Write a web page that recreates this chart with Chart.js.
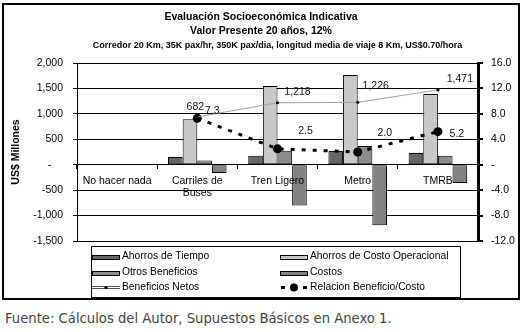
<!DOCTYPE html>
<html>
<head>
<meta charset="utf-8">
<script src="https://cdn.jsdelivr.net/npm/chart.js@4.4.0/dist/chart.umd.min.js"></script>
<style>
  body { margin: 0; background: #fff; width: 528px; height: 332px; overflow: hidden; position: relative; }
  #frame { position: absolute; left: 2px; top: 3px; width: 518px; height: 297px; border: 2px solid #000; box-sizing: border-box; }
  #chart { position: absolute; left: 0; top: 0; }
  #source { position: absolute; left: 5px; top: 311px; font: 13.2px "DejaVu Sans", sans-serif; color: #444; white-space: nowrap; }
</style>
</head>
<body>
<div id="frame"><canvas id="chart" width="514" height="293"></canvas></div>
<div id="source">Fuente: Cálculos del Autor, Supuestos Básicos en Anexo 1.</div>
<script>
const categories = ["No hacer nada", ["Carriles de", "Buses"], "Tren Ligero", "Metro", "TMRB"];
const ahorrosTiempo = [null, 150, 175, 270, 230];
const ahorrosCostoOp = [null, 895, 1550, 1765, 1390];
const otrosBeneficios = [null, 85, 275, 370, 175];
const costos = [null, -165, -800, -1190, -360];
const beneficiosNetos = [null, 940, 1218, 1226, 1471];
const netosLabels = ["", "682", "1,218", "1,226", "1,471"];
const relacionBC = [null, 7.3, 2.5, 2.0, 5.2];
const bcLabels = ["", "7.3", "2.5", "2.0", "5.2"];
const leftTicks = [-1500, -1000, -500, 0, 500, 1000, 1500, 2000];
const rightTicks = [-12, -8, -4, 0, 4, 8, 12, 16];

const FONT = '"Liberation Sans", Arial, sans-serif';
Chart.defaults.font.family = FONT;
Chart.defaults.font.size = 10.5;
Chart.defaults.color = "#000";

// label nudges, per point (dx, dy) from the marker
const netOffsets = [[0, 0], [-2, -10], [20, -11], [18, -16], [22, -11]];
const bcOffsets = [[0, 0], [15, -7], [28, -18], [27, -19], [19, 2]];

const pointLabels = {
  id: "pointLabels",
  afterDatasetsDraw(chart) {
    const ctx = chart.ctx;
    ctx.save();
    ctx.font = "10.5px " + FONT;
    ctx.fillStyle = "#111";
    ctx.textAlign = "center";
    ctx.textBaseline = "middle";
    [[4, netosLabels, netOffsets], [5, bcLabels, bcOffsets]].forEach(([idx, texts, offs]) => {
      chart.getDatasetMeta(idx).data.forEach((pt, i) => {
        if (!texts[i]) return;
        ctx.fillText(texts[i], pt.x + offs[i][0], pt.y + offs[i][1]);
      });
    });
    ctx.restore();
  },
};

const legendBox = {
  id: "legendBox",
  afterDraw(chart) {
    const ctx = chart.ctx;
    const cols = [88, 276];
    const rows = [251, 267, 282];
    ctx.save();
    ctx.strokeStyle = "#000";
    ctx.lineWidth = 1;
    ctx.strokeRect(87.5, 241.5, 369, 51);
    ctx.font = "10.3px " + FONT;
    ctx.textBaseline = "middle";
    chart.data.datasets.forEach((ds, i) => {
      const x = cols[i % 2];
      const y = rows[Math.floor(i / 2)];
      if (ds.type === "bar") {
        ctx.fillStyle = ds.backgroundColor;
        ctx.fillRect(x, y - 1, 28, 5);
        ctx.strokeStyle = "#000";
        ctx.strokeRect(x + 0.5, y - 0.5, 27, 4);
      } else if (ds.borderDash) {
        ctx.fillStyle = "#000";
        ctx.fillRect(x + 1, y - 1, 4, 3);
        ctx.fillRect(x + 23, y - 1, 4, 3);
        ctx.beginPath();
        ctx.arc(x + 14, y + 0.5, 4, 0, Math.PI * 2);
        ctx.fill();
      } else {
        ctx.strokeStyle = "#555";
        ctx.beginPath();
        ctx.moveTo(x, y - 0.5); ctx.lineTo(x + 28, y - 0.5);
        ctx.moveTo(x, y + 1.5); ctx.lineTo(x + 28, y + 1.5);
        ctx.stroke();
        ctx.fillStyle = "#000";
        ctx.beginPath();
        ctx.arc(x + 14, y + 0.5, 1.6, 0, Math.PI * 2);
        ctx.fill();
      }
      ctx.fillStyle = "#000";
      ctx.fillText(ds.label, x + 30, y);
    });
    ctx.restore();
  },
};

const barStyle = { type: "bar", yAxisID: "y", borderColor: "#000", borderWidth: 1, borderSkipped: false, order: 1 };

new Chart(document.getElementById("chart"), {
  data: {
    labels: categories,
    datasets: [
      { ...barStyle, label: "Ahorros de Tiempo", data: ahorrosTiempo, backgroundColor: "#666666" },
      { ...barStyle, label: "Ahorros de Costo Operacional", data: ahorrosCostoOp, backgroundColor: "#c8c8c8" },
      { ...barStyle, label: "Otros Beneficios", data: otrosBeneficios, backgroundColor: "#8c8c8c" },
      { ...barStyle, label: "Costos", data: costos, backgroundColor: "#828282" },
      {
        type: "line", label: "Beneficios Netos", data: beneficiosNetos, yAxisID: "y", order: 0,
        borderColor: "#a0a0a0", borderWidth: 1, pointRadius: 1.6, pointBackgroundColor: "#000",
        pointBorderWidth: 0, tension: 0,
      },
      {
        type: "line", label: "Relacion Beneficio/Costo", data: relacionBC, yAxisID: "y1", order: 0,
        borderColor: "#000", borderWidth: 3, borderDash: [4, 7], pointRadius: 4.5,
        pointBackgroundColor: "#000", pointBorderWidth: 0, tension: 0,
      },
    ],
  },
  options: {
    responsive: false,
    animation: false,
    devicePixelRatio: 1,
    layout: { padding: { top: 0, bottom: 57, left: 0, right: 0 } },
    plugins: {
      legend: { display: false },
      tooltip: { enabled: false },
      title: {
        display: true,
        text: ["Evaluación Socioeconómica Indicativa", "Valor Presente 20 años, 12%"],
        font: { size: 10.5, weight: "bold", lineHeight: 14 / 10.5 },
        color: "#000",
        padding: { top: 5, bottom: 2 },
      },
      subtitle: {
        display: true,
        fullSize: false,
        text: "Corredor 20 Km, 35K pax/hr, 350K pax/dia, longitud media de viaje 8 Km, US$0.70/hora",
        font: { size: 9, weight: "bold", lineHeight: 12 / 9 },
        color: "#000",
        padding: { top: 0, bottom: 11 },
      },
    },
    datasets: { bar: { categoryPercentage: 0.73, barPercentage: 1.0 } },
    scales: {
      x: {
        type: "category",
        position: { y: 0 },
        offset: true,
        border: { display: true, color: "#000", width: 1 },
        grid: { offset: true, drawOnChartArea: false, tickLength: 4, color: "#000" },
        ticks: { z: 1, autoSkip: false, maxRotation: 0, minRotation: 0, padding: 6, font: { size: 10.5, lineHeight: 12 / 10.5 } },
      },
      y: {
        position: "left",
        min: -1500,
        max: 2000,
        afterBuildTicks: (s) => { s.ticks = leftTicks.map((v) => ({ value: v })); },
        afterFit: (s) => { s.width = 73; },
        border: { color: "#000", width: 1 },
        grid: { color: "#000", tickLength: 4 },
        ticks: {
          padding: 10,
          callback: (v) => (v === 0 ? "-    " : v.toLocaleString("en-US")),
        },
        title: { display: true, text: "US$ Millones", font: { size: 10.5, weight: "bold" }, padding: { top: 6, bottom: 0 } },
      },
      y1: {
        position: "right",
        min: -12,
        max: 16,
        afterBuildTicks: (s) => { s.ticks = rightTicks.map((v) => ({ value: v })); },
        afterFit: (s) => { s.width = 40; },
        border: { color: "#000", width: 3 },
        grid: { drawOnChartArea: false, color: "#000", lineWidth: 2, tickLength: 5 },
        ticks: { padding: 8, callback: (v) => (v === 0 ? "-" : v.toFixed(1)) },
      },
    },
  },
  plugins: [pointLabels, legendBox],
});
</script>
</body>
</html>
